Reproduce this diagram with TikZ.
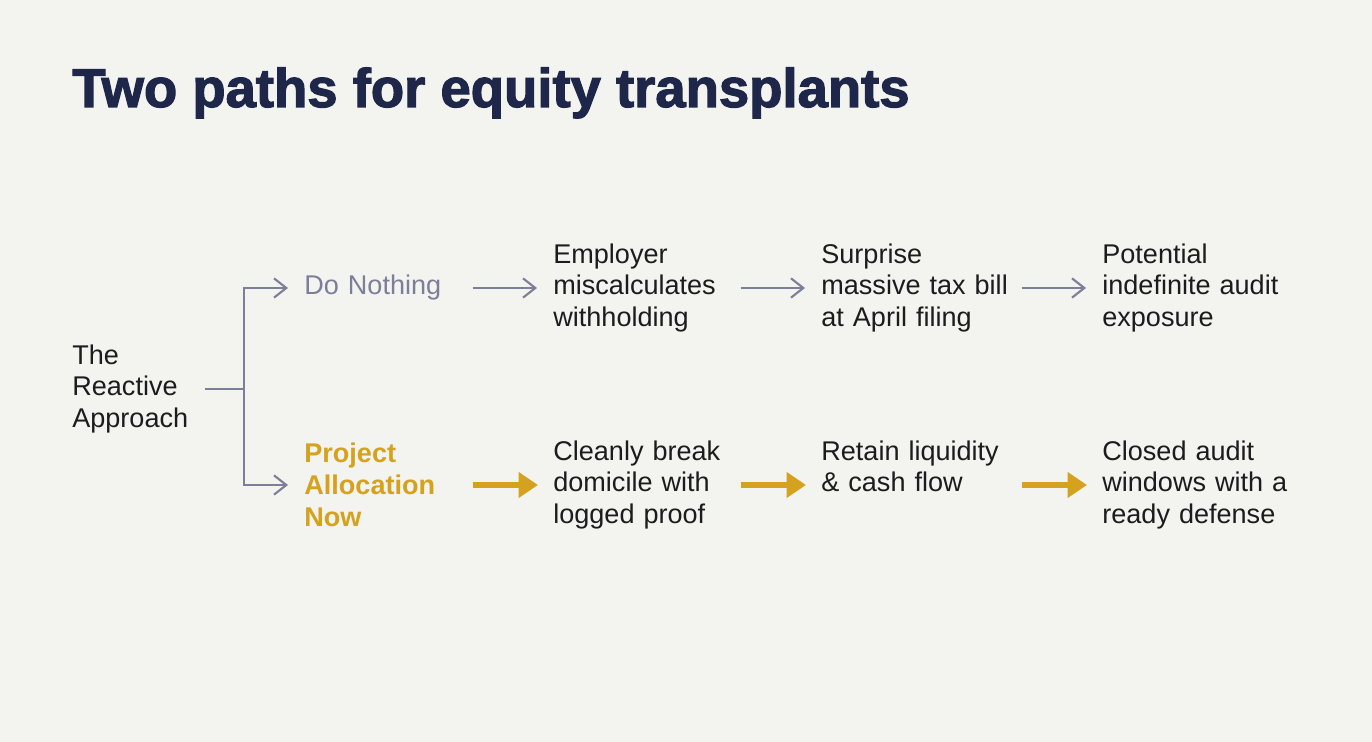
\documentclass[tikz,border=0pt]{standalone}
\usepackage{fontspec}
\setmainfont{Liberation Sans}
\newfontfamily\titlefont{Liberation Sans Bold}[AutoFakeBold=2.2]
\usepackage{xcolor}
\usetikzlibrary{arrows.meta, positioning, calc}
\definecolor{bgpaper}{HTML}{F3F3EF}
\definecolor{titlenavy}{HTML}{1E2749}
\definecolor{pathgray}{HTML}{7C7F99}
\definecolor{pathgold}{HTML}{D4A21E}
\definecolor{inktext}{HTML}{1C1C1C}

\begin{document}
\begin{tikzpicture}[x=0.02cm, y=-0.02cm,
  txt/.style={anchor=west, inner sep=0pt, align=left, font=\fontsize{15.4}{18.1}\selectfont, text=inktext},
  grayarrow/.style={pathgray, line width=1.2pt, -{Straight Barb[length=7pt, width=11pt]}, shorten >=0.32cm},
  goldarrow/.style={pathgold, line width=3.8pt, -{Triangle[length=11pt, width=14pt]}, shorten >=0.3cm}]
  \fill[bgpaper] (0,0) rectangle (1372,742);
  \node[anchor=base west, inner sep=0pt, font=\titlefont\bfseries\fontsize{31}{36}\selectfont, text=titlenavy] (title) at (72,107) {Two paths for equity transplants};

  % root and first column
  \node[txt, text width=2.64cm] (reactive) at (72,389) {The\\Reactive\\Approach};
  \node[txt, text width=3.36cm, text=pathgray] (nothing) at (304,288) {Do Nothing};
  \node[txt, text width=3.36cm, text=pathgold, font=\fontsize{15.4}{18.1}\selectfont\bfseries] (allocation) at (304,485) {Project\\Allocation\\Now};

  % upper path
  \node[txt, text width=3.74cm] (employer) at (553,288) {Employer\\miscalculates\\withholding};
  \node[txt, text width=4.0cm] (surprise) at (821,288) {Surprise\\massive tax bill\\at April filing};
  \node[txt, text width=4.4cm] (potential) at (1102,288) {Potential\\indefinite audit\\exposure};

  % lower path
  \node[txt, text width=3.74cm] (cleanly) at (553,485) {Cleanly break\\domicile with\\logged proof};
  \node[txt, text width=4.0cm, anchor=north west] (retain) at (cleanly.north -| 821,0) {Retain liquidity\\\& cash flow};
  \node[txt, text width=4.4cm] (closed) at (1102,485) {Closed audit\\windows with a\\ready defense};

  \draw[pathgray, line width=1.2pt] (reactive.east) -- ++(39,0) coordinate (fork);
  \draw[grayarrow] (fork) |- (nothing.west);
  \draw[grayarrow] (fork) |- (allocation.west);

  \draw[grayarrow] (nothing.east) -- (employer.west);
  \draw[grayarrow] (employer.east) -- (surprise.west);
  \draw[grayarrow] (surprise.east) -- (potential.west);

  \draw[goldarrow] (allocation.east) -- (cleanly.west);
  \draw[goldarrow] (cleanly.east) -- (retain.west |- cleanly.east);
  \draw[goldarrow] (retain.east |- closed.west) -- (closed.west);
\end{tikzpicture}
\end{document}
